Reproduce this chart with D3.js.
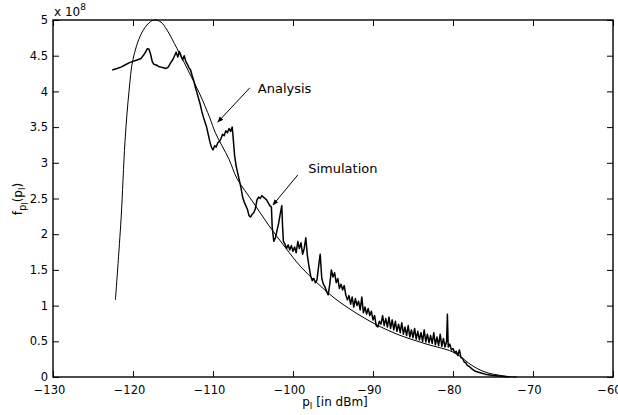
<!DOCTYPE html>
<html>
<head>
<meta charset="utf-8">
<script src="https://cdn.jsdelivr.net/npm/d3@7"></script>
<style>
  html, body { margin: 0; padding: 0; background: #fff; }
  svg { display: block; }
  text { font-family: "DejaVu Sans", sans-serif; fill: #000; }
</style>
</head>
<body>
<svg id="chart" width="618" height="415"></svg>
<script>
// ---------- data ----------
const xTicks = [-130, -120, -110, -100, -90, -80, -70, -60];
const xTickLabels = ["\u2212130", "\u2212120", "\u2212110", "\u2212100", "\u221290", "\u221280", "\u221270", "\u221260"];
const yTicks = [0, 0.5, 1, 1.5, 2, 2.5, 3, 3.5, 4, 4.5, 5];
const yTickLabels = ["0", "0.5", "1", "1.5", "2", "2.5", "3", "3.5", "4", "4.5", "5"];

// analytical pdf (units of 1e8)
const analysis = [
  [-122.2, 1.08], [-121.5, 2.2], [-121, 3.3], [-120.5, 4.0], [-120, 4.45], [-119, 4.8],
  [-118, 4.96], [-117.3, 5.0], [-116.5, 4.97], [-115.75, 4.86], [-114.5, 4.6], [-113, 4.27],
  [-111.6, 3.95], [-110.4, 3.63], [-109.7, 3.42], [-108, 3.05], [-107, 2.78], [-105, 2.45],
  [-103, 2.12], [-101, 1.82], [-99, 1.54], [-97, 1.32], [-95, 1.12], [-93, 0.96],
  [-91, 0.82], [-89, 0.70], [-87, 0.60], [-85, 0.52], [-83, 0.45], [-81, 0.39],
  [-80, 0.35], [-79, 0.28], [-78, 0.19], [-77, 0.12], [-76, 0.07], [-75, 0.04],
  [-74, 0.02], [-73, 0.005], [-72, 0]
];

// simulated histogram (units of 1e8)
const simulation = [
  [-122.6, 4.30], [-122, 4.32], [-121.5, 4.34], [-121, 4.37], [-120.5, 4.40], [-120, 4.42],
  [-119.5, 4.44], [-119, 4.46], [-118.6, 4.52], [-118.2, 4.60], [-118, 4.59], [-117.8, 4.52],
  [-117.6, 4.42], [-117.4, 4.38], [-117.1, 4.37], [-116.8, 4.35], [-116.5, 4.34], [-116.2, 4.33],
  [-115.9, 4.32], [-115.6, 4.34], [-115.3, 4.40], [-115.0, 4.45], [-114.8, 4.50], [-114.6, 4.55],
  [-114.4, 4.48], [-114.2, 4.56], [-114.0, 4.50], [-113.8, 4.44], [-113.6, 4.50], [-113.4, 4.42],
  [-113.2, 4.38], [-113.0, 4.33], [-112.8, 4.30], [-112.6, 4.22], [-112.4, 4.15], [-112.2, 4.05],
  [-112.0, 3.98], [-111.8, 3.90], [-111.6, 3.82], [-111.4, 3.72], [-111.2, 3.64], [-111.0, 3.57],
  [-110.8, 3.50], [-110.6, 3.40], [-110.4, 3.30], [-110.2, 3.22], [-110.0, 3.18], [-109.8, 3.24],
  [-109.6, 3.22], [-109.4, 3.28], [-109.2, 3.30], [-109.0, 3.34], [-108.8, 3.40], [-108.6, 3.38],
  [-108.4, 3.45], [-108.2, 3.42], [-108.0, 3.48], [-107.8, 3.44], [-107.6, 3.50], [-107.5, 3.38],
  [-107.3, 3.10], [-107.1, 2.95], [-106.9, 2.85], [-106.7, 2.75], [-106.5, 2.65], [-106.3, 2.52],
  [-106.1, 2.45], [-105.9, 2.40], [-105.7, 2.35], [-105.5, 2.26], [-105.3, 2.24], [-105.1, 2.28],
  [-104.9, 2.30], [-104.7, 2.36], [-104.5, 2.48], [-104.3, 2.52], [-104.1, 2.50], [-103.9, 2.54],
  [-103.7, 2.52], [-103.5, 2.50], [-103.3, 2.48], [-103.1, 2.44], [-102.9, 2.40], [-102.7, 2.38],
  [-102.6, 2.10], [-102.4, 1.90], [-102.2, 1.95], [-102.0, 2.05], [-101.8, 2.15], [-101.6, 2.28],
  [-101.4, 2.40], [-101.3, 2.10], [-101.2, 1.90], [-101.0, 1.86], [-100.8, 1.80], [-100.6, 1.85],
  [-100.4, 1.78], [-100.2, 1.84], [-100.0, 1.76], [-99.8, 1.82], [-99.6, 1.74], [-99.4, 1.90],
  [-99.2, 1.80], [-99.0, 1.88], [-98.8, 1.72], [-98.6, 1.80], [-98.4, 1.95], [-98.2, 1.70],
  [-98.0, 1.55], [-97.8, 1.42], [-97.6, 1.35], [-97.4, 1.38], [-97.2, 1.32], [-97.0, 1.36],
  [-96.8, 1.55], [-96.6, 1.72], [-96.4, 1.38], [-96.2, 1.30], [-96.0, 1.26], [-95.8, 1.20],
  [-95.6, 1.15], [-95.4, 1.30], [-95.2, 1.50], [-95.0, 1.40], [-94.8, 1.46], [-94.6, 1.32],
  [-94.4, 1.38], [-94.2, 1.24], [-94.0, 1.30], [-93.8, 1.22], [-93.6, 1.28], [-93.4, 1.15],
  [-93.2, 1.08], [-93.0, 1.14], [-92.8, 1.02], [-92.6, 1.12], [-92.4, 0.98], [-92.2, 1.10],
  [-92.0, 1.00], [-91.8, 1.06], [-91.6, 0.94], [-91.4, 1.12], [-91.2, 0.90], [-91.0, 0.98],
  [-90.8, 0.88], [-90.6, 0.96], [-90.4, 0.86], [-90.2, 0.92], [-90.0, 0.80], [-89.8, 0.86],
  [-89.6, 0.72], [-89.4, 0.70], [-89.2, 0.78], [-89.0, 0.74], [-88.8, 0.86], [-88.6, 0.72],
  [-88.4, 0.82], [-88.2, 0.70], [-88.0, 0.84], [-87.8, 0.68], [-87.6, 0.80], [-87.4, 0.66],
  [-87.2, 0.78], [-87.0, 0.64], [-86.8, 0.74], [-86.6, 0.62], [-86.4, 0.76], [-86.2, 0.60],
  [-86.0, 0.70], [-85.8, 0.58], [-85.6, 0.72], [-85.4, 0.56], [-85.2, 0.66], [-85.0, 0.55],
  [-84.8, 0.68], [-84.6, 0.53], [-84.4, 0.64], [-84.2, 0.52], [-84.0, 0.62], [-83.8, 0.50],
  [-83.6, 0.66], [-83.4, 0.49], [-83.2, 0.60], [-83.0, 0.48], [-82.8, 0.58], [-82.6, 0.47],
  [-82.4, 0.62], [-82.2, 0.45], [-82.0, 0.56], [-81.8, 0.44], [-81.6, 0.60], [-81.4, 0.43],
  [-81.2, 0.54], [-81.0, 0.42], [-80.8, 0.50], [-80.7, 0.88], [-80.6, 0.42], [-80.4, 0.46],
  [-80.2, 0.38], [-80.0, 0.40], [-79.8, 0.34], [-79.6, 0.36], [-79.4, 0.30], [-79.2, 0.38],
  [-79.0, 0.27], [-78.8, 0.26], [-78.6, 0.21], [-78.4, 0.20], [-78.2, 0.16], [-78.0, 0.15],
  [-77.6, 0.11], [-77.2, 0.08], [-76.6, 0.06], [-76.0, 0.04], [-75.0, 0.02], [-74.0, 0.01],
  [-73.0, 0.0]
];

// annotations: [label, textX, textY, arrowStartX, arrowStartY, tipX, tipY] in data units
const annotations = [
  ["Analysis", -104.4, 3.98, -105.4, 4.05, -109.4, 3.57],
  ["Simulation", -98.1, 2.86, -99.4, 2.83, -102.5, 2.41]
];

// ---------- layout ----------
const W = 618, H = 415;
const margin = { top: 20, right: 5, bottom: 38, left: 53 };
const iw = W - margin.left - margin.right;
const ih = H - margin.top - margin.bottom;

const svg = d3.select("#chart");
const g = svg.append("g").attr("transform", `translate(${margin.left},${margin.top})`);

const x = d3.scaleLinear().domain([-130, -60]).range([0, iw]);
const y = d3.scaleLinear().domain([0, 5]).range([ih, 0]);

svg.append("defs").append("marker")
  .attr("id", "ah").attr("viewBox", "0 0 10 10")
  .attr("refX", 9).attr("refY", 5)
  .attr("markerWidth", 6).attr("markerHeight", 6)
  .attr("markerUnits", "userSpaceOnUse")
  .attr("orient", "auto")
  .append("path").attr("d", "M0,1 L10,5 L0,9 Z").attr("fill", "#000");

// axes (ticks inward)
const tickLen = 6;
const xb = g.append("g").attr("transform", `translate(0,${ih})`)
  .call(d3.axisBottom(x).tickValues(xTicks).tickSizeInner(-tickLen).tickSizeOuter(0).tickPadding(9)
    .tickFormat((d, i) => xTickLabels[i]));
xb.selectAll("text").attr("dx", -4).style("font-size", "11.5px");
const xt = g.append("g")
  .call(d3.axisTop(x).tickValues(xTicks).tickSizeInner(-tickLen).tickSizeOuter(0).tickFormat(""));
const yl = g.append("g")
  .call(d3.axisLeft(y).tickValues(yTicks).tickSizeInner(-tickLen).tickSizeOuter(0).tickPadding(5)
    .tickFormat((d, i) => yTickLabels[i]));
yl.selectAll("text").style("font-size", "11.5px");
const yr = g.append("g").attr("transform", `translate(${iw},0)`)
  .call(d3.axisRight(y).tickValues(yTicks).tickSizeInner(-tickLen).tickSizeOuter(0).tickFormat(""));
[xb, xt, yl, yr].forEach(a => {
  a.select(".domain").remove();
  a.selectAll(".tick line").attr("stroke", "#000").attr("stroke-width", 1);
  a.selectAll("text").attr("fill", "#000").style("font-family", "'DejaVu Sans', sans-serif");
});

// curves
g.append("path").datum(analysis)
  .attr("d", d3.line().x(d => x(d[0])).y(d => y(d[1])).curve(d3.curveCatmullRom))
  .attr("fill", "none").attr("stroke", "#000").attr("stroke-width", 1);
g.append("path").datum(simulation)
  .attr("d", d3.line().x(d => x(d[0])).y(d => y(d[1])))
  .attr("fill", "none").attr("stroke", "#000").attr("stroke-width", 1.5).attr("stroke-linejoin", "round");

// frame
g.append("rect").attr("x", 0).attr("y", 0).attr("width", iw).attr("height", ih)
  .attr("fill", "none").attr("stroke", "#000").attr("stroke-width", 1.4);

// annotations
annotations.forEach(a => {
  g.append("text").attr("x", x(a[1])).attr("y", y(a[2])).style("font-size", "13px").text(a[0]);
  g.append("line")
    .attr("x1", x(a[3])).attr("y1", y(a[4]))
    .attr("x2", x(a[5])).attr("y2", y(a[6]))
    .attr("stroke", "#000").attr("stroke-width", 1)
    .attr("marker-end", "url(#ah)");
});

// exponent label
const ex = svg.append("text").attr("x", 54).attr("y", 16).style("font-size", "12px");
ex.append("tspan").text("x 10");
ex.append("tspan").attr("dy", -6).style("font-size", "9px").text("8");

// x axis label
const xlab = svg.append("text").attr("x", 335).attr("y", 406)
  .attr("text-anchor", "middle").style("font-size", "12px");
xlab.append("tspan").text("p");
xlab.append("tspan").attr("dy", 3).style("font-size", "9px").text("l");
xlab.append("tspan").attr("dy", -3).text(" [in dBm]");

// y axis label
const ylab = svg.append("text").attr("transform", "translate(22,199) rotate(-90)")
  .attr("text-anchor", "middle").style("font-size", "12px");
ylab.append("tspan").text("f");
ylab.append("tspan").attr("dy", 4).style("font-size", "10px").text("p");
ylab.append("tspan").attr("dy", 2).style("font-size", "8px").text("l");
ylab.append("tspan").attr("dy", -6).text("(p");
ylab.append("tspan").attr("dy", 3).style("font-size", "9px").text("l");
ylab.append("tspan").attr("dy", -3).text(")");
</script>
</body>
</html>
